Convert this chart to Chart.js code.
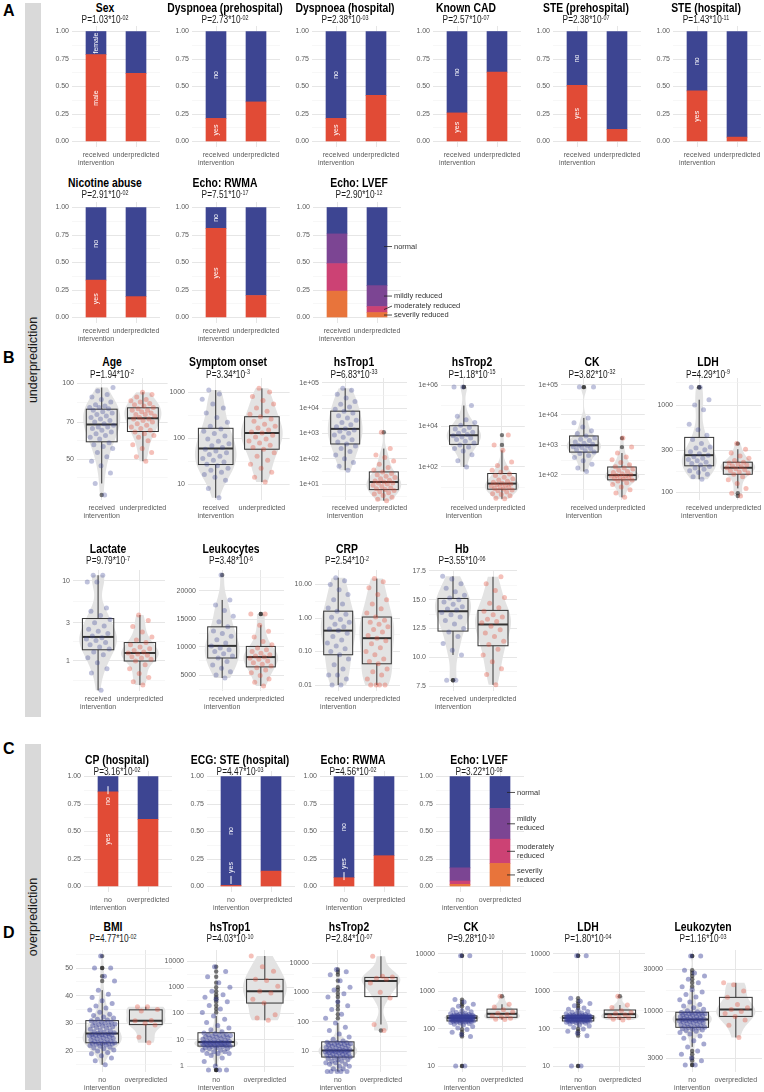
<!DOCTYPE html>
<html>
<head>
<meta charset="utf-8">
<title>Under- and overprediction</title>
<script src="https://cdn.jsdelivr.net/npm/chart.js@4.4.1/dist/chart.umd.min.js"></script>
<style>
  body { margin: 0; width: 764px; height: 1092px; position: relative; overflow: hidden; background: #fff; font-family: "Liberation Sans", Arial, sans-serif; }
  canvas { position: absolute; }
  .strip { position: absolute; left: 25px; width: 16px; background: #d9d9d9; }
  .strip span { position: absolute; left: 50%; top: 50%; transform: translate(-50%, -50%) rotate(-90deg); white-space: nowrap; font-size: 12.5px; color: #1a1a1a; }
  .tag { position: absolute; left: 3px; font-weight: bold; font-size: 16px; line-height: 1; }
  .ttl { position: absolute; white-space: nowrap; line-height: 1; transform: translate(-50%, -50%) scaleX(0.83); }
  .ttl.main { font-weight: bold; font-size: 12.5px; color: #000; }
  .ttl.p { font-size: 10px; color: #1a1a1a; }
  .ttl sup { font-size: 6.5px; vertical-align: baseline; position: relative; top: -3.5px; line-height: 0; }
</style>
</head>
<body>
<div class="strip" style="top:3px;height:714px"><span>underprediction</span></div>
<div class="strip" style="top:744px;height:346px"><span>overprediction</span></div>
<div class="tag" style="top:3px">A</div>
<div class="tag" style="top:350px">B</div>
<div class="tag" style="top:741px">C</div>
<div class="tag" style="top:925px">D</div>
<script>
Chart.defaults.font.family = '"Liberation Sans", Arial, sans-serif';

const BLUE = '#3d4592', RED = '#e14b36';
const LVEF_COLORS = ['#e8743b', '#cc4274', '#7c4593', '#3d4592'];
const BLUE_PT = 'rgba(62, 70, 150, 0.33)', RED_PT = 'rgba(226, 75, 54, 0.35)';
const BLUE_DENSE = 'rgba(55, 62, 150, 0.45)';
const OUT_PT = 'rgba(35, 35, 35, 0.6)';
const VIOLIN = '#e3e3e3';
const TICK = '#5a5a5a', GRID = '#e6e6e6', GRID_MINOR = '#f2f2f2';

// ---------- data ----------
const underGroups = [['received', 'intervention'], 'underpredicted'];
const overGroups = [['no', 'intervention'], 'overpredicted'];
const shareTicks = [0, 0.25, 0.5, 0.75, 1];
const shareLabels = ['0.00', '0.25', '0.50', '0.75', '1.00'];

// share of the lower (red) level per group
const yesNo = ['yes', 'no'];
const sexLevels = ['male', 'female'];
const sexMale = [0.79, 0.62];
const dyspPreYes = [0.21, 0.36];
const dyspHospYes = [0.21, 0.42];
const cadYes = [0.26, 0.63];
const stePreYes = [0.51, 0.11];
const steHospYes = [0.46, 0.04];
const nicotineYes = [0.34, 0.19];
const rwmaYes = [0.81, 0.20];
const cpYes = [0.86, 0.61];
const ecgSteYes = [0.01, 0.14];
const rwmaOverYes = [0.08, 0.28];

// LVEF, bottom to top
const lvefLevels = ['severily reduced', 'moderately reduced', 'mildly reduced', 'normal'];
const lvefSevere = [0.24, 0.045];
const lvefModerate = [0.25, 0.055];
const lvefMild = [0.27, 0.19];
const lvefNormal = [0.24, 0.71];
const lvefOverSevere = [0.02, 0.21];
const lvefOverModerate = [0.03, 0.22];
const lvefOverMild = [0.12, 0.28];
const lvefOverNormal = [0.83, 0.29];

// continuous variables, one array per group
const ageReceived = [36, 40, 44, 47, 49, 51, 53, 55, 56, 57, 58, 60, 61, 62, 63, 64, 65, 66, 67, 67, 68, 69, 70, 71, 72, 73, 74, 75, 76, 77, 78, 79, 80, 80, 81, 82, 84, 86, 88, 90, 93, 96];
const ageUnder = [49, 51, 53, 55, 57, 59, 61, 62, 63, 64, 65, 66, 67, 68, 69, 70, 71, 72, 72, 73, 74, 75, 75, 76, 77, 78, 78, 79, 80, 81, 82, 83, 84, 85, 86, 88, 90, 92];
const onsetReceived = [5, 8, 12, 14, 16, 18, 20, 22, 25, 27, 30, 33, 36, 40, 44, 48, 52, 57, 62, 68, 75, 85, 95, 110, 125, 140, 157, 180, 220, 280, 350, 450, 550, 700, 900, 1100];
const onsetUnder = [11, 14, 18, 22, 27, 33, 40, 48, 57, 62, 70, 78, 86, 95, 105, 115, 128, 135, 150, 165, 180, 200, 230, 260, 290, 330, 380, 450, 550, 650, 800, 1000, 1200];
const trop1Received = [35, 50, 70, 100, 140, 190, 250, 316, 380, 450, 560, 700, 850, 1000, 1200, 1350, 1500, 1800, 2200, 2700, 3300, 4000, 5000, 6300, 7500, 9000, 11000, 14000, 18000, 25000, 35000, 50000, 60000];
const trop1Under = [2.2, 2.5, 3, 3.5, 4, 4.5, 5, 5.5, 6, 6.5, 7, 8, 9, 10, 11, 11, 12, 13, 14, 16, 18, 20, 23, 26, 30, 36, 45, 60, 80, 110, 140, 250, 1100];
const trop2Received = [100, 200, 400, 600, 800, 950, 1200, 1500, 1800, 2200, 2600, 2900, 3300, 3800, 4400, 5000, 6000, 7100, 8500, 11000, 15000, 20000, 30000, 100000, 800000, 800000];
const trop2Under = [2.8, 3, 4, 4.5, 5, 6, 7, 7.6, 8.5, 9, 10, 11, 12, 13, 14, 15, 16, 18, 20, 23, 27, 32, 38, 46, 55, 70, 90, 120, 175, 650, 1200, 3600];
const ckReceived = [130, 170, 230, 300, 380, 450, 520, 580, 640, 700, 760, 820, 880, 930, 980, 1050, 1150, 1250, 1400, 1550, 1700, 2000, 2400, 3000, 4000, 5500, 8000, 85000, 85000];
const ckUnder = [18, 25, 32, 40, 48, 55, 63, 68, 72, 76, 80, 85, 90, 93, 97, 102, 110, 120, 130, 145, 160, 170, 190, 220, 260, 320, 400, 540, 850, 1700];
const ldhReceived = [140, 150, 160, 168, 175, 182, 189, 196, 204, 212, 220, 228, 236, 245, 255, 265, 275, 290, 305, 320, 330, 360, 400, 450, 520, 600, 880, 1000, 1150, 1600, 1600];
const ldhUnder = [90, 97, 110, 125, 138, 150, 160, 165, 170, 175, 180, 185, 190, 195, 200, 205, 210, 215, 220, 230, 245, 260, 280, 310, 360];
const lactateReceived = [0.43, 0.71, 0.8, 0.95, 1.1, 1.2, 1.3, 1.41, 1.5, 1.6, 1.7, 1.8, 1.88, 1.95, 2.05, 2.2, 2.35, 2.5, 2.74, 3.0, 3.3, 3.7, 4.2, 4.6, 9.7, 9.7, 11.8, 11.8];
const lactateUnder = [0.5, 0.55, 0.62, 0.7, 0.8, 0.9, 1.0, 1.05, 1.09, 1.13, 1.18, 1.22, 1.26, 1.3, 1.35, 1.42, 1.5, 1.6, 1.7, 1.83, 2.0, 2.3, 2.7, 3.2, 3.76];
const leukoReceived = [4460, 5000, 5600, 6200, 6800, 7400, 8036, 8400, 8800, 9200, 9500, 9820, 10200, 10700, 11300, 11900, 12400, 12860, 13600, 14500, 15500, 16500, 17500, 18400, 22860];
const leukoUnder = [3040, 3700, 4300, 4900, 5400, 5900, 6300, 6600, 6900, 7200, 7500, 7800, 8000, 8200, 8400, 8600, 8900, 9200, 9500, 9800, 10400, 11000, 11800, 12800, 13900, 15900, 15900];
const crpReceived = [0.01, 0.01, 0.015, 0.02, 0.02, 0.03, 0.04, 0.06, 0.08, 0.1, 0.12, 0.146, 0.18, 0.22, 0.28, 0.35, 0.42, 0.47, 0.55, 0.65, 0.75, 0.9, 1.05, 1.3, 1.6, 2, 2.6, 3.5, 5, 7, 10, 13, 16];
const crpUnder = [0.01, 0.01, 0.01, 0.01, 0.015, 0.02, 0.025, 0.03, 0.043, 0.05, 0.06, 0.08, 0.1, 0.13, 0.17, 0.21, 0.25, 0.3, 0.38, 0.45, 0.55, 0.65, 0.75, 0.85, 1.07, 1.4, 1.9, 2.6, 3.5, 5, 8, 12, 15];
const hbReceived = [8.0, 8.0, 10.2, 10.6, 11.2, 11.8, 12.2, 12.5, 12.9, 13.2, 13.5, 13.7, 13.9, 14.1, 14.2, 14.4, 14.6, 14.8, 15.0, 15.15, 15.4, 15.7, 16.0, 16.4, 16.8, 17.05];
const hbUnder = [7.6, 8.5, 9.0, 9.6, 10.2, 10.7, 11.1, 11.4, 11.8, 12.1, 12.4, 12.7, 13.0, 13.1, 13.3, 13.5, 13.7, 14.0, 14.3, 14.7, 15.2, 15.8, 16.4, 17.0];

const bmiNone = [15, 16.5, 17.5, 18.3, 19, 19.5, 20, 20.4, 20.8, 21.1, 21.4, 21.7, 22, 22.2, 22.4, 22.5, 22.6, 22.7, 22.8, 22.9,
  23, 23.2, 23.4, 23.6, 23.8, 24, 24.2, 24.4, 24.6, 24.8, 25, 25.2, 25.4, 25.5, 25.6, 25.7, 25.8, 25.9, 26, 26.2,
  26.4, 26.6, 26.8, 27, 27.3, 27.6, 27.9, 28.2, 28.5, 28.8, 29, 29.2, 29.4, 29.6, 29.8, 30, 30.2, 30.4, 30.6, 30.9,
  31.2, 31.5, 31.9, 32.3, 32.8, 33.3, 34, 34.8, 35.5, 36.3, 37.2, 38.2, 39.3, 40.5, 42, 45.3, 47, 50, 50, 54.3];
const bmiOver = [23, 25, 29.4, 30, 30.9, 31, 34.5, 35, 36, 36];
const trop1None = [0.7, 0.7, 0.7, 1, 1.5, 2, 2.5, 3, 3, 3, 3.5, 3.5, 4, 4, 4.5, 4.5, 5, 5, 5.5, 5.5,
  5.8, 5.9, 6, 6.1, 6.2, 6.3, 6.5, 6.6, 6.8, 6.9, 7, 7.1, 7.3, 7.4, 7.5, 7.7, 7.8, 7.9, 8, 8.1,
  8.2, 8.5, 8.8, 9, 9.5, 10, 10.5, 11, 11.5, 12, 12.5, 13, 13.5, 14, 14.5, 15, 15.5, 16, 17, 18,
  20, 24, 28, 35, 45, 60, 80, 110, 150, 200, 280, 350, 420, 520, 700, 1000, 1500, 2500, 4000, 6000];
const trop1Over = [55, 68, 90, 250, 350, 600, 700, 1080, 1800, 2000, 4100, 6000, 15500];
const trop2None = [2, 2, 2, 2, 2, 2.5, 2.5, 3, 3, 3.5, 3.5, 4, 4, 4.5, 4.5, 5, 5, 5.5, 6, 6,
  6.3, 6.5, 6.8, 7, 7.2, 7.5, 7.8, 8, 8.2, 8.5, 8.7, 9, 9.2, 9.4, 9.6, 9.8, 10, 10, 10.2, 10.3,
  10.5, 11, 11.5, 12, 12.5, 13, 13.5, 14, 14.5, 15, 15.5, 16, 16.5, 17, 17.5, 18, 18.5, 19, 19.5, 20,
  22, 25, 30, 38, 50, 65, 90, 130, 180, 260, 350, 480, 690, 900, 1200, 1500, 2500, 4000, 5000, 6000];
const trop2Over = [50, 80, 640, 1000, 2100, 2800, 3000, 3300, 3500, 17000];
const ckNone = [10, 10, 62, 70, 80, 95, 105, 115, 125, 132, 138, 142, 146, 150, 152, 154, 156, 158, 159, 160,
  161, 163, 165, 167, 169, 171, 173, 175, 177, 179, 181, 183, 185, 187, 189, 190, 191, 192, 193, 194,
  195, 196, 197, 198, 199, 200, 201, 202, 203, 205, 207, 209, 211, 213, 214, 215, 216, 217, 218, 220,
  222, 225, 228, 232, 236, 240, 245, 250, 260, 270, 285, 300, 320, 350, 400, 450, 520, 600, 9000, 9000];
const ckOver = [175, 180, 190, 205, 220, 240, 260, 280, 320, 380, 450, 740];
const ldhNone = [10, 10, 65, 75, 85, 98, 108, 118, 126, 134, 140, 145, 148, 151, 153, 155, 157, 158, 159, 160,
  161, 162, 164, 166, 168, 170, 172, 174, 176, 178, 180, 182, 184, 186, 188, 189, 190, 191, 192, 193,
  194, 195, 196, 197, 198, 199, 200, 202, 204, 206, 208, 210, 211, 212, 213, 214, 215, 216, 218, 220,
  222, 224, 227, 231, 235, 240, 246, 252, 262, 275, 290, 310, 330, 360, 410, 470, 540, 650, 9000, 9000];
const ldhOver = [170, 180, 195, 200, 215, 235, 255, 270, 300, 370, 430, 740];
const leukoNone = [2500, 2500, 2800, 3000, 3300, 3600, 4000, 4300, 4700, 5000, 5300, 5600, 5800, 6000, 6100, 6200, 6300, 6400, 6500, 6600,
  6650, 6700, 6800, 6900, 7000, 7100, 7200, 7300, 7400, 7500, 7600, 7700, 7750, 7800, 7850, 7900, 7950, 8000, 8050, 8100,
  8150, 8200, 8300, 8400, 8500, 8600, 8700, 8800, 8900, 9000, 9100, 9200, 9300, 9400, 9450, 9500, 9550, 9600, 9700, 9750,
  9900, 10200, 10600, 11000, 11500, 12000, 12800, 13500, 14500, 15500, 16500, 17500, 19000, 21000, 23000, 25000, 27000, 29000, 42000, 42000];
const leukoOver = [5100, 7000, 8000, 8800, 9500, 10000, 10500, 11000, 12000, 14400, 17000, 20000, 21000];

// ---------- panels ----------
const barPanels = [
  { title: 'Sex', p: ['1.03', '-02'], levels: sexLevels, shares: [sexMale], groups: underGroups, cx: [96, 136], y1: 31, y0: 141, ty: 7.5 },
  { title: 'Dyspnoea (prehospital)', p: ['2.73', '-02'], levels: yesNo, shares: [dyspPreYes], groups: underGroups, cx: [216, 256], y1: 31, y0: 141, ty: 7.5 },
  { title: 'Dyspnoea (hospital)', p: ['2.38', '-03'], levels: yesNo, shares: [dyspHospYes], groups: underGroups, cx: [336, 376], y1: 31, y0: 141, ty: 7.5 },
  { title: 'Known CAD', p: ['2.57', '-07'], levels: yesNo, shares: [cadYes], groups: underGroups, cx: [457, 497], y1: 31, y0: 141, ty: 7.5 },
  { title: 'STE (prehospital)', p: ['2.38', '-07'], levels: yesNo, shares: [stePreYes], groups: underGroups, cx: [577, 617], y1: 31, y0: 141, ty: 7.5 },
  { title: 'STE (hospital)', p: ['1.43', '-11'], levels: yesNo, shares: [steHospYes], groups: underGroups, cx: [697, 737], y1: 31, y0: 141, ty: 7.5 },
  { title: 'Nicotine abuse', p: ['2.91', '-02'], levels: yesNo, shares: [nicotineYes], groups: underGroups, cx: [96, 136], y1: 207, y0: 317, ty: 182.5 },
  { title: 'Echo: RWMA', p: ['7.51', '-17'], levels: yesNo, shares: [rwmaYes], groups: underGroups, cx: [216, 256], y1: 207, y0: 317, ty: 182.5 },
  { title: 'Echo: LVEF', p: ['2.90', '-12'], levels: lvefLevels, shares: [lvefSevere, lvefModerate, lvefMild, lvefNormal], groups: underGroups, cx: [337, 377], y1: 207, y0: 317, ty: 182.5, side: 1, sideW: 26 },
  { title: 'CP (hospital)', p: ['3.16', '-02'], levels: yesNo, shares: [cpYes], groups: overGroups, cx: [108, 148], y1: 776, y0: 886, ty: 759.5 },
  { title: 'ECG: STE (hospital)', p: ['4.47', '-03'], levels: yesNo, shares: [ecgSteYes], groups: overGroups, cx: [231, 271], y1: 776, y0: 886, ty: 759.5 },
  { title: 'Echo: RWMA', p: ['4.56', '-02'], levels: yesNo, shares: [rwmaOverYes], groups: overGroups, cx: [344, 384], y1: 776, y0: 886, ty: 759.5 },
  { title: 'Echo: LVEF', p: ['3.22', '-08'], levels: lvefLevels, shares: [lvefOverSevere, lvefOverModerate, lvefOverMild, lvefOverNormal], groups: overGroups, cx: [460, 500], y1: 776, y0: 886, ty: 759.5, side: 2, sideW: 20 }
];

const rowB1 = { top: 378, bottom: 500, ty: 362 };
const rowB2 = { top: 570, bottom: 691, ty: 548.5 };
const rowD = { top: 950, bottom: 1072, ty: 926.5 };

const boxPanels = [
  { row: rowB1, title: 'Age', p: ['1.94', '-2'], log: true, ticks: [50, 70, 100], labels: ['50', '70', '100'], ref: [100, 383, 50, 459], cx: [102, 143], values: [ageReceived, ageUnder], groups: underGroups },
  { row: rowB1, title: 'Symptom onset', p: ['3.34', '-3'], log: true, ticks: [10, 100, 1000], labels: ['10', '100', '1000'], ref: [1000, 392, 10, 484], cx: [216, 262], values: [onsetReceived, onsetUnder], groups: underGroups },
  { row: rowB1, title: 'hsTrop1', p: ['6.83', '-33'], log: true, ticks: [10, 100, 1e3, 1e4, 1e5], labels: ['1e+01', '1e+02', '1e+03', '1e+04', '1e+05'], ref: [1e4, 408, 10, 484], cx: [345, 384], values: [trop1Received, trop1Under], groups: underGroups },
  { row: rowB1, title: 'hsTrop2', p: ['1.18', '-15'], log: true, ticks: [100, 1e4, 1e6], labels: ['1e+02', '1e+04', '1e+06'], ref: [1e6, 385, 100, 467], cx: [464, 502], values: [trop2Received, trop2Under], groups: underGroups },
  { row: rowB1, title: 'CK', p: ['3.82', '-32'], log: true, ticks: [100, 1e3, 1e4, 1e5], labels: ['1e+02', '1e+03', '1e+04', '1e+05'], ref: [1e5, 385, 100, 475], cx: [584, 622], values: [ckReceived, ckUnder], groups: underGroups },
  { row: rowB1, title: 'LDH', p: ['4.29', '-9'], log: true, ticks: [100, 300, 1000], labels: ['100', '300', '1000'], ref: [1000, 405, 100, 492], cx: [699, 738], values: [ldhReceived, ldhUnder], groups: underGroups },
  { row: rowB2, title: 'Lactate', p: ['9.79', '-7'], log: true, ticks: [1, 3, 10], labels: ['1', '3', '10'], ref: [10, 581, 1, 661], cx: [98, 140], values: [lactateReceived, lactateUnder], groups: underGroups },
  { row: rowB2, title: 'Leukocytes', p: ['3.48', '-6'], log: false, ticks: [5000, 10000, 15000, 20000], labels: ['5000', '10000', '15000', '20000'], ref: [20000, 591, 5000, 675], cx: [222, 261], values: [leukoReceived, leukoUnder], groups: underGroups },
  { row: rowB2, title: 'CRP', p: ['2.54', '-2'], log: true, ticks: [0.01, 0.1, 1, 10], labels: ['0.01', '0.10', '1.00', '10.00'], ref: [1, 618, 0.01, 685], cx: [338, 377], values: [crpReceived, crpUnder], groups: underGroups },
  { row: rowB2, title: 'Hb', p: ['3.55', '-06'], log: false, ticks: [7.5, 10, 12.5, 15, 17.5], labels: ['7.5', '10.0', '12.5', '15.0', '17.5'], ref: [17.5, 571, 7.5, 686], cx: [453, 493], values: [hbReceived, hbUnder], groups: underGroups },
  { row: rowD, title: 'BMI', p: ['4.77', '-02'], log: false, ticks: [20, 30, 40, 50], labels: ['20', '30', '40', '50'], ref: [50, 968, 20, 1051], cx: [102, 146], values: [bmiNone, bmiOver], groups: overGroups },
  { row: rowD, title: 'hsTrop1', p: ['4.03', '-10'], log: true, ticks: [1, 10, 100, 1000, 10000], labels: ['1', '10', '100', '1000', '10000'], ref: [10000, 961, 1, 1066], cx: [216, 265], values: [trop1None, trop1Over], groups: overGroups },
  { row: rowD, title: 'hsTrop2', p: ['2.84', '-07'], log: true, ticks: [10, 100, 1000, 10000], labels: ['10', '100', '1000', '10000'], ref: [10000, 963, 10, 1051], cx: [338, 381], values: [trop2None, trop2Over], groups: overGroups },
  { row: rowD, title: 'CK', p: ['9.28', '-10'], log: true, ticks: [10, 100, 1000, 10000], labels: ['10', '100', '1000', '10000'], ref: [10000, 954, 10, 1066], cx: [462, 502], values: [ckNone, ckOver], groups: overGroups },
  { row: rowD, title: 'LDH', p: ['1.80', '-04'], log: true, ticks: [10, 100, 1000, 10000], labels: ['10', '100', '1000', '10000'], ref: [10000, 954, 10, 1066], cx: [578, 620], values: [ldhNone, ldhOver], groups: overGroups },
  { row: rowD, title: 'Leukozyten', p: ['1.16', '-03'], log: true, ticks: [3000, 10000, 30000], labels: ['3000', '10000', '30000'], ref: [30000, 969, 3000, 1058], cx: [692, 736], values: [leukoNone, leukoOver], groups: overGroups }
];

// ---------- helpers ----------
function makeCanvas(left, top, w, h) {
  const c = document.createElement('canvas');
  c.width = Math.round(w); c.height = Math.round(h);
  c.style.left = Math.round(left) + 'px'; c.style.top = Math.round(top) + 'px';
  c.style.width = c.width + 'px'; c.style.height = c.height + 'px';
  document.body.appendChild(c);
  return c;
}

function addTitle(title, p, cx, cy) {
  const t = document.createElement('div');
  t.className = 'ttl main'; t.textContent = title;
  t.style.left = cx + 'px'; t.style.top = cy + 'px';
  document.body.appendChild(t);
  const s = document.createElement('div');
  s.className = 'ttl p'; s.innerHTML = 'P=' + p[0] + '*10<sup>' + p[1] + '</sup>';
  s.style.left = cx + 'px'; s.style.top = (cy + 12.5) + 'px';
  document.body.appendChild(s);
}

function axisRange(log, v1, p1, v2, p2, top, bottom) {
  const f = v => log ? Math.log10(v) : v, b = v => log ? Math.pow(10, v) : v;
  const k = (f(v2) - f(v1)) / (p2 - p1);
  return { min: b(f(v1) + (bottom - p1) * k), max: b(f(v1) + (top - p1) * k) };
}

function xScale(groups) {
  return {
    type: 'linear', min: 0.4, max: 2.6, offset: false,
    afterBuildTicks: s => { s.ticks = [{ value: 1 }, { value: 2 }]; },
    afterFit: s => { s.height = 22; s.paddingLeft = 0; s.paddingRight = 0; },
    ticks: { autoSkip: false, maxRotation: 0, padding: 4, color: TICK, font: { size: 7, lineHeight: 1.15 }, callback: v => groups[v - 1] },
    grid: { drawTicks: false, offset: false, color: GRID },
    border: { display: false }
  };
}

function yScale(log, range, majors, labels, axisW) {
  const lab = new Map(majors.map((v, i) => [v, labels[i]]));
  const f = v => log ? Math.log10(v) : v, b = v => log ? Math.pow(10, v) : v;
  const tm = majors.map(f);
  const minors = [];
  for (let i = 0; i < tm.length - 1; i++) minors.push(b((tm[i] + tm[i + 1]) / 2));
  const n = tm.length;
  minors.push(b(tm[0] - (tm[1] - tm[0]) / 2), b(tm[n - 1] + (tm[n - 1] - tm[n - 2]) / 2));
  const all = majors.concat(minors).filter(v => v >= range.min && v <= range.max).sort((a, c) => a - c);
  const isMajor = c => c.tick && lab.has(c.tick.value);
  return {
    type: log ? 'logarithmic' : 'linear', min: range.min, max: range.max,
    afterBuildTicks: s => { s.ticks = all.map(v => ({ value: v })); },
    afterFit: s => { s.width = axisW; s.paddingTop = 0; s.paddingBottom = 0; },
    ticks: { autoSkip: false, padding: 3, color: TICK, font: { size: 7 }, callback: v => lab.has(v) ? lab.get(v) : '' },
    grid: { drawTicks: false, color: c => isMajor(c) ? GRID : GRID_MINOR, lineWidth: c => isMajor(c) ? 1 : 0.6 },
    border: { display: false }
  };
}

function baseOptions(scales, padR) {
  return {
    responsive: false, animation: false, events: [],
    layout: { padding: { top: 6, right: padR, left: 0, bottom: 0 } },
    plugins: { legend: { display: false }, tooltip: { enabled: false } },
    scales
  };
}

function quant(sorted, q) {
  const h = (sorted.length - 1) * q, lo = Math.floor(h);
  return sorted[lo] + (h - lo) * (sorted[Math.ceil(h)] - sorted[lo]);
}

function boxStats(vals, log) {
  const f = v => log ? Math.log10(v) : v, b = v => log ? Math.pow(10, v) : v;
  const t = vals.map(f).sort((a, c) => a - c);
  const q1 = quant(t, 0.25), med = quant(t, 0.5), q3 = quant(t, 0.75), iqr = q3 - q1;
  const inside = t.filter(v => v >= q1 - 1.5 * iqr && v <= q3 + 1.5 * iqr);
  return {
    q1: b(q1), med: b(med), q3: b(q3), lo: b(inside[0]), hi: b(inside[inside.length - 1]),
    out: vals.filter(v => f(v) < q1 - 1.5 * iqr || f(v) > q3 + 1.5 * iqr)
  };
}

function jitter(vals, g) {
  return vals.map((v, i) => ({ x: g + (((i + 1) * 0.618034) % 1 - 0.5) * 0.6, y: v }));
}

// ---------- stacked bars ----------
function barLabels(pn, shares) {
  return {
    id: 'barLabels',
    afterDatasetsDraw(chart) {
      const { ctx, scales: { x, y } } = chart;
      const u = x.getPixelForValue(2) - x.getPixelForValue(1);
      ctx.save();
      ctx.font = '7px "Liberation Sans", Arial, sans-serif';
      if (!pn.side) {
        const px = x.getPixelForValue(1);
        let base = 0;
        shares.forEach((s, i) => {
          const a = base, b = base + s[0]; base = b;
          const yc = y.getPixelForValue((a + b) / 2);
          const txt = pn.levels[i], w = ctx.measureText(txt).width;
          let ty = yc;
          ctx.strokeStyle = '#fff'; ctx.fillStyle = '#fff'; ctx.lineWidth = 1;
          if (b - a < 0.15) {
            const dir = a === 0 ? -1 : 1;
            ctx.beginPath(); ctx.moveTo(px, yc + dir * 2); ctx.lineTo(px, yc + dir * 10); ctx.stroke();
            ty = yc + dir * (13 + w / 2);
          }
          ctx.save(); ctx.translate(px, ty); ctx.rotate(-Math.PI / 2);
          ctx.textAlign = 'center'; ctx.textBaseline = 'middle'; ctx.fillText(txt, 0, 0);
          ctx.restore();
        });
      } else {
        const xr = x.getPixelForValue(2) + 0.25 * u;
        const twoLine = pn.side === 2;
        const gap = twoLine ? 18 : 9;
        let base = 0, prev = Infinity;
        ctx.strokeStyle = '#222'; ctx.fillStyle = '#333'; ctx.lineWidth = 0.8;
        ctx.textAlign = 'left'; ctx.textBaseline = 'middle';
        ctx.font = '7.5px "Liberation Sans", Arial, sans-serif';
        shares.forEach((s, i) => {
          const cp = y.getPixelForValue(base + s[1] / 2); base += s[1];
          const ly = Math.min(cp, prev - gap); prev = ly;
          ctx.beginPath(); ctx.moveTo(xr - 3, cp); ctx.lineTo(xr + 5, ly); ctx.stroke();
          const txt = pn.levels[i];
          if (twoLine && txt.includes(' ')) {
            const parts = txt.split(' ');
            ctx.fillText(parts[0], xr + 7, ly - 4.5);
            ctx.fillText(parts[1], xr + 7, ly + 4.5);
          } else {
            ctx.fillText(txt, xr + 7, ly);
          }
        });
      }
      ctx.restore();
    }
  };
}

function drawBarPanel(pn) {
  const u = pn.cx[1] - pn.cx[0];
  const span = pn.y0 - pn.y1;
  const plotL = pn.cx[0] - 0.6 * u, plotR = pn.cx[1] + 0.6 * u;
  const top = pn.y1 - 0.05 * span, bottom = pn.y0 + 0.05 * span;
  const axisW = 24, padR = pn.side ? 72 : 4;
  const left = Math.round(plotL - axisW), ctop = Math.round(top - 6);
  const canvas = makeCanvas(left, ctop, plotR - left + padR, bottom - ctop + 22);
  const shares = pn.shares.length === 1 ? [pn.shares[0], pn.shares[0].map(v => 1 - v)] : pn.shares;
  const colors = pn.side ? LVEF_COLORS : [RED, BLUE];
  const base = [0, 0];
  const datasets = shares.map((s, i) => {
    const d = s.map((v, g) => ({ x: g + 1, y: [base[g], base[g] + v] }));
    s.forEach((v, g) => { base[g] += v; });
    return { data: d, backgroundColor: colors[i], barThickness: u * 0.5, grouped: false, borderWidth: 0 };
  });
  new Chart(canvas, {
    type: 'bar',
    data: { datasets },
    options: baseOptions({ x: xScale(pn.groups), y: yScale(false, { min: -0.05, max: 1.05 }, shareTicks, shareLabels, axisW) }, canvas.width - (plotR - left)),
    plugins: [barLabels(pn, shares)]
  });
  addTitle(pn.title, pn.p, (plotL - 22 + plotR + (pn.sideW || 0)) / 2, pn.ty);
}

// ---------- violin + box ----------
function violinBox(pn, stats) {
  return {
    id: 'violinBox',
    beforeDatasetsDraw(chart) {
      const { ctx, scales: { x, y } } = chart;
      const u = x.getPixelForValue(2) - x.getPixelForValue(1);
      const f = v => pn.log ? Math.log10(v) : v, b = v => pn.log ? Math.pow(10, v) : v;
      ctx.save();
      pn.values.forEach((vals, g) => {
        const cx = x.getPixelForValue(g + 1);
        const t = vals.map(f).sort((a, c) => a - c);
        const n = t.length, mean = t.reduce((a, c) => a + c, 0) / n;
        const sd = Math.sqrt(t.reduce((a, c) => a + (c - mean) ** 2, 0) / (n - 1));
        const iqr = quant(t, 0.75) - quant(t, 0.25);
        const bw = 0.9 * Math.min(sd, iqr / 1.34 || sd) * Math.pow(n, -0.2);
        const dens = [];
        for (let k = 0; k <= 80; k++) {
          const v = t[0] + (t[n - 1] - t[0]) * k / 80;
          let d = 0;
          t.forEach(ti => { const z = (v - ti) / bw; d += Math.exp(-z * z / 2); });
          dens.push([v, d]);
        }
        const dmax = Math.max(...dens.map(p => p[1]));
        ctx.beginPath();
        dens.forEach(([v, d], k) => {
          const px = cx - d / dmax * 0.45 * u, py = y.getPixelForValue(b(v));
          if (k) ctx.lineTo(px, py); else ctx.moveTo(px, py);
        });
        for (let k = dens.length - 1; k >= 0; k--) {
          const [v, d] = dens[k];
          ctx.lineTo(cx + d / dmax * 0.45 * u, y.getPixelForValue(b(v)));
        }
        ctx.closePath(); ctx.fillStyle = VIOLIN; ctx.fill();
      });
      stats.forEach((s, g) => {
        const cx = x.getPixelForValue(g + 1), hw = 0.375 * u;
        const py = v => y.getPixelForValue(v);
        ctx.strokeStyle = '#333'; ctx.lineWidth = 1;
        ctx.beginPath();
        ctx.moveTo(cx, py(s.hi)); ctx.lineTo(cx, py(s.q3));
        ctx.moveTo(cx, py(s.q1)); ctx.lineTo(cx, py(s.lo));
        ctx.stroke();
        ctx.strokeRect(cx - hw, py(s.q3), 2 * hw, py(s.q1) - py(s.q3));
        ctx.lineWidth = 2;
        ctx.beginPath(); ctx.moveTo(cx - hw, py(s.med)); ctx.lineTo(cx + hw, py(s.med)); ctx.stroke();
      });
      ctx.restore();
    }
  };
}

function drawBoxPanel(pn) {
  const row = pn.row;
  const u = pn.cx[1] - pn.cx[0];
  const plotL = pn.cx[0] - 0.6 * u, plotR = pn.cx[1] + 0.6 * u;
  const range = axisRange(pn.log, ...pn.ref, row.top, row.bottom);
  const axisW = 26;
  const left = Math.round(plotL - axisW), ctop = Math.round(row.top - 6);
  const canvas = makeCanvas(left, ctop, plotR - left + 4, row.bottom - ctop + 22);
  const stats = pn.values.map(v => boxStats(v, pn.log));
  const ptColors = [BLUE_PT, RED_PT];
  const datasets = pn.values.map((vals, g) => ({
    data: jitter(vals, g + 1),
    backgroundColor: g === 0 && vals.length > 60 ? BLUE_DENSE : ptColors[g],
    borderWidth: 0, pointRadius: 2.5, clip: false
  }));
  datasets.push({
    data: stats.flatMap((s, g) => s.out.map(v => ({ x: g + 1, y: v }))),
    backgroundColor: OUT_PT, borderWidth: 0, pointRadius: 2.2, clip: false
  });
  new Chart(canvas, {
    type: 'scatter',
    data: { datasets },
    options: baseOptions({ x: xScale(pn.groups), y: yScale(pn.log, range, pn.ticks, pn.labels, axisW) }, canvas.width - (plotR - left)),
    plugins: [violinBox(pn, stats)]
  });
  addTitle(pn.title, pn.p, (plotL - 22 + plotR) / 2, row.ty);
}

barPanels.forEach(drawBarPanel);
boxPanels.forEach(drawBoxPanel);
</script>
</body>
</html>
